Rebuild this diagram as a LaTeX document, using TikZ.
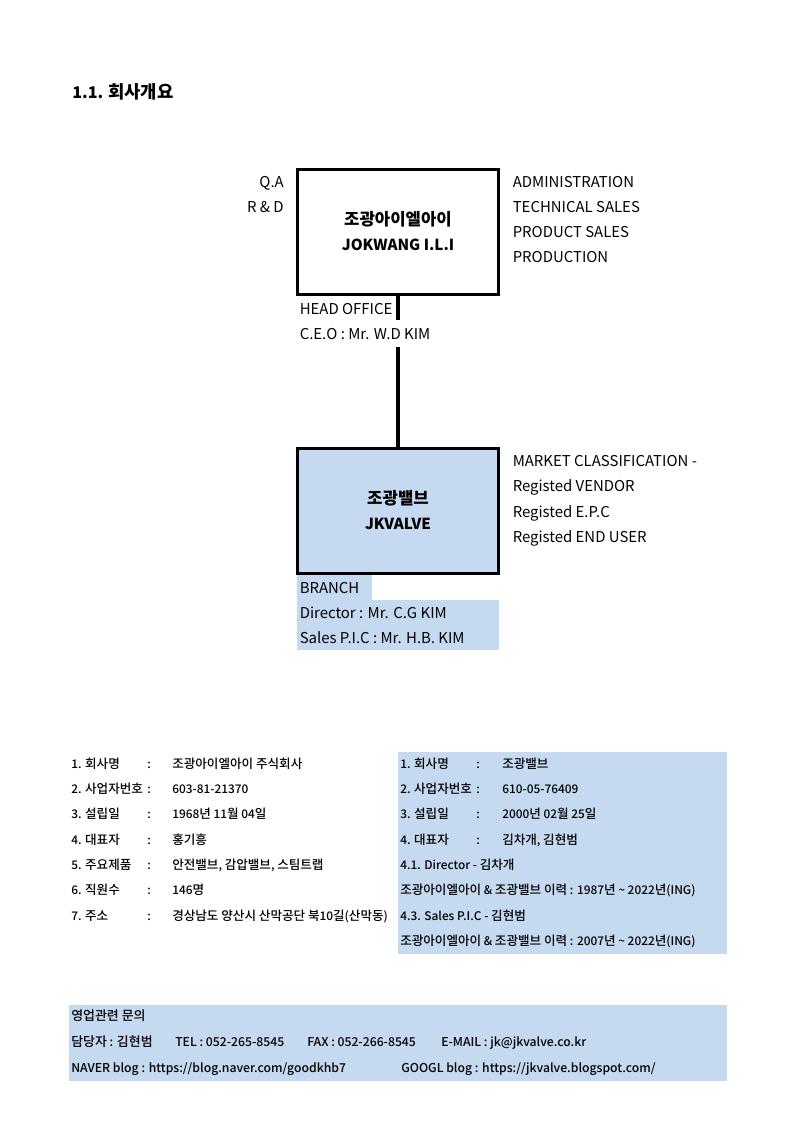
\documentclass[tikz,border=0pt]{standalone}
\usepackage{fontspec}
\setmainfont{Noto Sans CJK KR}
\newfontfamily\medfont{Noto Sans CJK KR Medium}
\newfontfamily\krmedfont{Noto Sans CJK KR Medium}[Scale=1.06]
\newfontfamily\krboldfont{Noto Sans CJK KR}[Scale=1.1]
\def\kr#1{{\krcur #1}}
\let\krcur\krboldfont
\def\up#1{\raisebox{1.2pt}{#1}}
\usetikzlibrary{calc}
\definecolor{panelblue}{HTML}{C5D9F1}
\tikzset{
	txt/.style={anchor=base west,inner sep=0pt,font=\fontsize{11.2pt}{14pt}\selectfont},
	small/.style={anchor=base west,inner sep=0pt,font=\fontsize{8.9pt}{10pt}\selectfont\medfont\let\krcur\krmedfont},
	contact/.style={small,font=\fontsize{9.15pt}{10pt}\selectfont\medfont\let\krcur\krmedfont},
	office/.style={draw=black,line width=2.6pt,minimum width=150.4pt,minimum height=93.4pt,inner sep=0pt,align=center,font=\fontsize{11.4pt}{19pt}\selectfont\bfseries}
}
\begin{document}
\begin{tikzpicture}[x=0.75pt,y=-0.75pt]
	%%%%% START %%%%%
	\useasboundingbox (0, 0) rectangle (800, 1132);
	
	\node[anchor=base west,inner sep=0pt,font=\fontsize{12.1pt}{15pt}\selectfont\bfseries] (title) at (72, 98) {1.1. \kr{회사개요}};
	
	% panels
	\fill[panelblue] (297, 575) rectangle (372, 600);
	\fill[panelblue] (297, 600) rectangle (499, 650);
	\fill[panelblue] (398, 752) rectangle (727, 954);
	\fill[panelblue] (69, 1005) rectangle (727, 1081);
	
	\node[office] (head) at (398, 232) {\up{\kr{조광아이엘아이}}\\\up{JOKWANG I.L.I}};
	\node[office,fill=panelblue] (branch) at (398, 511) {\up{\kr{조광밸브}}\\\up{JKVALVE}};
	\draw[line width=3pt] (head) -- (branch);
	
	\node[txt,anchor=base east] (qa) at (284, 187) {Q.A};
	\node[txt,anchor=base east] (rd) at (284, 212) {R \& D};
	
	\node[txt] (admin) at (512.5, 187) {ADMINISTRATION};
	\node[txt] (tech) at (512.5, 212) {TECHNICAL SALES};
	\node[txt] (prod) at (512.5, 237) {PRODUCT SALES};
	\node[txt] (produ) at (512.5, 262) {PRODUCTION};
	
	\node[txt] (hoffice) at (299.5, 314) {HEAD OFFICE};
	\node[txt,fill=white,text height=14pt,text depth=5.8pt] (ceo) at (299.5, 339) {C.E.O : Mr. W.D KIM};
	
	\node[txt] (market) at (512.5, 466) {MARKET CLASSIFICATION -};
	\node[txt] (vendor) at (512.5, 491.5) {Registed VENDOR};
	\node[txt] (epc) at (512.5, 517) {Registed E.P.C};
	\node[txt] (enduser) at (512.5, 542) {Registed END USER};
	
	\node[txt] (bname) at (299.5, 593) {BRANCH};
	\node[txt] (director) at (299.5, 618) {Director : Mr. C.G KIM};
	\node[txt] (sales) at (299.5, 643) {Sales P.I.C : Mr. H.B. KIM};
	
	% left table
	\node[small] (la) at (71, 768) {1. \kr{회사명}};
	\node[small] (lb) at (71, 793) {2. \kr{사업자번호}};
	\node[small] (lc) at (71, 818) {3. \kr{설립일}};
	\node[small] (ld) at (71, 844) {4. \kr{대표자}};
	\node[small] (le) at (71, 869) {5. \kr{주요제품}};
	\node[small] (lf) at (71, 894) {6. \kr{직원수}};
	\node[small] (lg) at (71, 920) {7. \kr{주소}};
	
	\node[small] (ca) at (147, 768) {:};
	\node[small] (cb) at (147, 793) {:};
	\node[small] (cc) at (147, 818) {:};
	\node[small] (cd) at (147, 844) {:};
	\node[small] (ce) at (147, 869) {:};
	\node[small] (cf) at (147, 894) {:};
	\node[small] (cg) at (147, 920) {:};
	
	\node[small] (va) at (172, 768) {\kr{조광아이엘아이 주식회사}};
	\node[small] (vb) at (172, 793) {603-81-21370};
	\node[small] (vc) at (172, 818) {1968\kr{년} 11\kr{월} 04\kr{일}};
	\node[small] (vd) at (172, 844) {\kr{홍기흥}};
	\node[small] (ve) at (172, 869) {\kr{안전밸브}, \kr{감압밸브}, \kr{스팀트랩}};
	\node[small] (vf) at (172, 894) {146\kr{명}};
	\node[small] (vg) at (172, 920) {\kr{경상남도 양산시 산막공단 북}10\kr{길}(\kr{산막동})};
	
	% right table
	\node[small] (ra) at (400, 768) {1. \kr{회사명}};
	\node[small] (rb) at (400, 793) {2. \kr{사업자번호}};
	\node[small] (rc) at (400, 818) {3. \kr{설립일}};
	\node[small] (rd2) at (400, 844) {4. \kr{대표자}};
	\node[small] (re) at (400, 869) {4.1. Director - \kr{김차개}};
	\node[small] (rf) at (400, 894) {\kr{조광아이엘아이} \& \kr{조광밸브 이력} : 1987\kr{년} \textasciitilde{} 2022\kr{년}(ING)};
	\node[small] (rg) at (400, 920) {4.3. Sales P.I.C - \kr{김현범}};
	\node[small] (rh) at (400, 945) {\kr{조광아이엘아이} \& \kr{조광밸브 이력} : 2007\kr{년} \textasciitilde{} 2022\kr{년}(ING)};
	
	\node[small] (da) at (476, 768) {:};
	\node[small] (db) at (476, 793) {:};
	\node[small] (dc) at (476, 818) {:};
	\node[small] (dd) at (476, 844) {:};
	
	\node[small] (wa) at (502, 768) {\kr{조광밸브}};
	\node[small] (wb) at (502, 793) {610-05-76409};
	\node[small] (wc) at (502, 818) {2000\kr{년} 02\kr{월} 25\kr{일}};
	\node[small] (wd) at (502, 844) {\kr{김차개}, \kr{김현범}};
	
	% sales contact
	\node[contact] (sa) at (71, 1020) {\kr{영업관련 문의}};
	\node[contact] (sb) at (71, 1046) {\kr{담당자} : \kr{김현범}};
	\node[contact] (sc) at (175, 1046) {TEL : 052-265-8545};
	\node[contact] (sd) at (307, 1046) {FAX : 052-266-8545};
	\node[contact] (se) at (441, 1046) {E-MAIL : jk@jkvalve.co.kr};
	\node[contact] (sf) at (71, 1072) {NAVER blog : https://blog.naver.com/goodkhb7};
	\node[contact] (sg) at (401, 1072) {GOOGL blog : https://jkvalve.blogspot.com/};
	%%%%% END %%%%%
\end{tikzpicture}
\end{document}
